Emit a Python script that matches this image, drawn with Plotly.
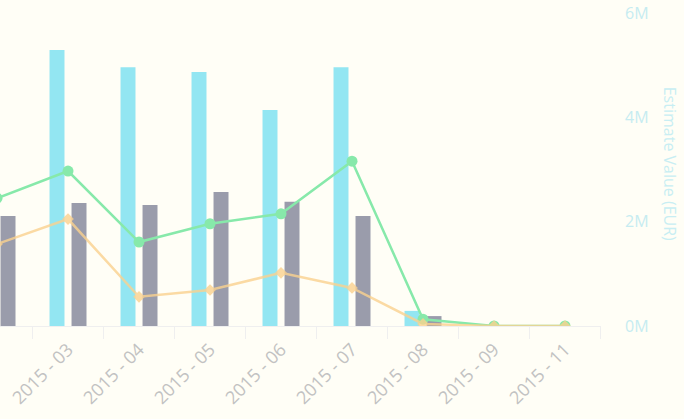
import plotly.graph_objects as go

months = ["2015 - 02", "2015 - 03", "2015 - 04", "2015 - 05", "2015 - 06",
          "2015 - 07", "2015 - 08", "2015 - 09", "2015 - 11"]
cyan_bars = [4.6, 5.29, 4.96, 4.87, 4.14, 4.96, 0.29, 0, 0]
gray_bars = [2.11, 2.36, 2.32, 2.57, 2.38, 2.11, 0.19, 0, 0]
green_line = [2.45, 2.97, 1.61, 1.96, 2.15, 3.16, 0.13, 0, 0]
orange_line = [1.57, 2.05, 0.56, 0.69, 1.02, 0.73, 0.04, 0, 0]
y_ticks = [0, 2, 4, 6]
y_tick_labels = ["0M", "2M", "4M", "6M"]

fig = go.Figure()
fig.add_trace(go.Bar(x=months, y=cyan_bars, marker=dict(color="#93e6f2", line=dict(width=0)),
                     name="a"))
fig.add_trace(go.Bar(x=months, y=gray_bars, marker=dict(color="#9a9cab", line=dict(width=0)),
                     name="b"))
fig.add_trace(go.Scatter(x=months, y=green_line, mode="lines+markers",
                         line=dict(color="#87e9aa", width=2.5),
                         marker=dict(symbol="circle", size=11, color="#87e9aa"), name="c"))
fig.add_trace(go.Scatter(x=months, y=orange_line, mode="lines+markers",
                         line=dict(color="#fbd28f", width=2.5),
                         marker=dict(symbol="diamond", size=9, color="#fbd28f"),
                         opacity=0.8, name="d"))

fig.update_layout(
    width=684, height=419,
    margin=dict(l=0, r=83, t=13, b=93, autoexpand=False),
    paper_bgcolor="#fffef6", plot_bgcolor="#fffef6",
    showlegend=False,
    barmode="group", bargap=0.38, bargroupgap=0.32,
    font=dict(family="Open Sans", color="#b8b8b8"),
    xaxis=dict(type="category", range=[0.042, 8.507], tickangle=-45,
               tickfont=dict(size=18, color="#c2c2c2"), automargin=False,
               showline=True, linecolor="#efefef", linewidth=1,
               ticks="outside", tickson="boundaries", ticklen=12, tickcolor="#efefef",
               showgrid=False, zeroline=False, ticklabelstandoff=5),
    yaxis=dict(side="right", range=[0, 6], tickvals=y_ticks, ticktext=y_tick_labels,
               tickfont=dict(size=16, color="#c6ecf1"), showgrid=False, automargin=False,
               zeroline=False, showline=False, ticks="", ticklabelstandoff=23),
    annotations=[dict(text="Estimate Value (EUR)", textangle=90, xref="paper", yref="paper",
                      x=1.114, y=0.52, xanchor="center", yanchor="middle", showarrow=False,
                      font=dict(size=16, color="#c8eef3", family="Open Sans"))],
)

fig.write_html("out.html", config={"displayModeBar": False},
               post_script="document.body.style.margin='0';document.body.style.overflow='hidden';")
